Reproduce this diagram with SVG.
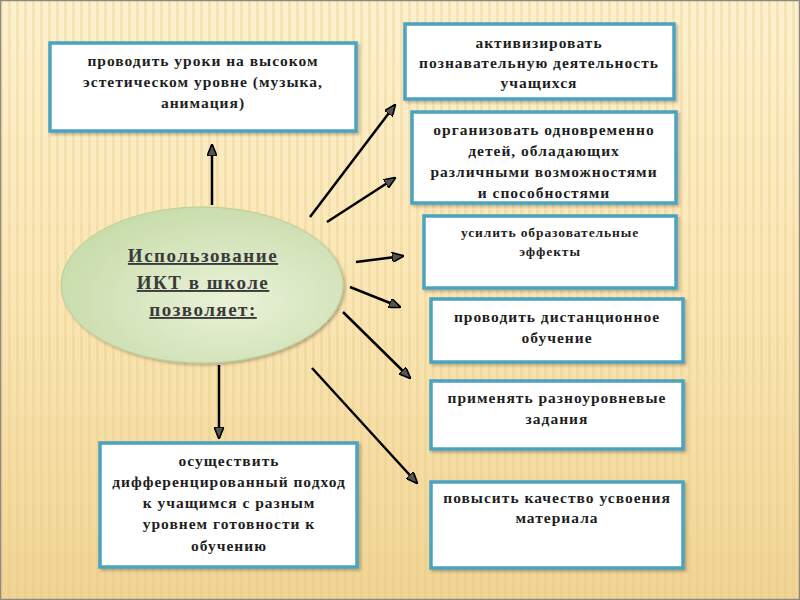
<svg xmlns="http://www.w3.org/2000/svg" width="800" height="600" viewBox="0 0 800 600">
<defs>
<linearGradient id="bg" x1="0" y1="0" x2="0" y2="1">
<stop offset="0" stop-color="#FDF1CE"/>
<stop offset="0.5" stop-color="#FAE6B4"/>
<stop offset="1" stop-color="#F0D494"/>
</linearGradient>
<pattern id="stripes" width="8" height="600" patternUnits="userSpaceOnUse">
<rect x="0" y="0" width="3" height="600" fill="#E8C982" opacity="0.3"/>
</pattern>
<radialGradient id="ell" cx="0.6" cy="0.6" r="0.7">
<stop offset="0" stop-color="#E9F2D8"/>
<stop offset="1" stop-color="#C5DAA6"/>
</radialGradient>
<marker id="ah" viewBox="0 0 12 10" refX="11" refY="5" markerWidth="12" markerHeight="10" markerUnits="userSpaceOnUse" orient="auto">
<path d="M0,0 L12,5 L0,10 Z" fill="#555" stroke="#000" stroke-width="1.6"/>
</marker>
<filter id="sh" x="-5%" y="-5%" width="115%" height="120%">
<feDropShadow dx="2" dy="2" stdDeviation="1.5" flood-color="#000" flood-opacity="0.25"/>
</filter>
</defs>
<style>
.box{fill:#FFFFFF;stroke:#4BA3BF;stroke-width:3.5;filter:url(#sh)}
.t{font-family:"Liberation Serif","Times New Roman",serif;font-weight:bold;font-size:15.5px;fill:#1E1E1E;text-anchor:middle;letter-spacing:1px}
.ts{font-size:13.5px;letter-spacing:0.9px}
.c{font-family:"Liberation Serif","Times New Roman",serif;font-weight:bold;font-size:19px;fill:#3A3A3A;text-anchor:middle;text-decoration:underline;letter-spacing:1.5px}
.ar{stroke:#000;stroke-width:2.5;fill:none;marker-end:url(#ah)}
</style>
<rect width="800" height="600" fill="url(#bg)"/>
<rect width="800" height="600" fill="url(#stripes)"/>
<rect x="0.5" y="0.5" width="799" height="599" fill="none" stroke="#8A8A80" stroke-width="1.5"/>

<g id="connectors">
<line class="ar" x1="212" y1="205" x2="212" y2="145"/>
<line class="ar" x1="219" y1="365" x2="219" y2="438"/>
<line class="ar" x1="310" y1="217" x2="395" y2="105"/>
<line class="ar" x1="327" y1="222" x2="395" y2="178"/>
<line class="ar" x1="356" y1="262" x2="403" y2="256"/>
<line class="ar" x1="350" y1="287" x2="400" y2="307"/>
<line class="ar" x1="343" y1="312" x2="410" y2="378"/>
<line class="ar" x1="312" y1="368" x2="417" y2="483"/>
</g>

<g id="center">
<ellipse cx="202" cy="285" rx="141" ry="78" fill="url(#ell)" stroke="#B8CF98" stroke-width="1" filter="url(#sh)"/>
<text class="c" x="203" y="262">Использование</text>
<text class="c" x="203" y="289">ИКТ в  школе</text>
<text class="c" x="203" y="316">позволяет:</text>
</g>

<g id="n_top">
<rect class="box" x="50" y="43" width="306" height="88"/>
<text class="t" x="203" y="66">проводить уроки на высоком</text>
<text class="t" x="203" y="87">эстетическом уровне (музыка,</text>
<text class="t" x="203" y="108">анимация)</text>
</g>

<g id="n1">
<rect class="box" x="405" y="24" width="269" height="75"/>
<text class="t" x="539" y="48">активизировать</text>
<text class="t" x="539" y="68">познавательную деятельность</text>
<text class="t" x="539" y="88">учащихся</text>
</g>

<g id="n2">
<rect class="box" x="412" y="112" width="264" height="91"/>
<text class="t" x="544" y="135">организовать одновременно</text>
<text class="t" x="544" y="156">детей, обладающих</text>
<text class="t" x="544" y="177">различными возможностями</text>
<text class="t" x="544" y="198">и способностями</text>
</g>

<g id="n3">
<rect class="box" x="424" y="216" width="252" height="72"/>
<text class="t ts" x="550" y="237">усилить образовательные</text>
<text class="t ts" x="550" y="256">эффекты</text>
</g>

<g id="n4">
<rect class="box" x="431" y="299" width="252" height="63"/>
<text class="t" x="557" y="322">проводить дистанционное</text>
<text class="t" x="557" y="343">обучение</text>
</g>

<g id="n5">
<rect class="box" x="431" y="381" width="252" height="68"/>
<text class="t" x="557" y="403">применять разноуровневые</text>
<text class="t" x="557" y="424">задания</text>
</g>

<g id="n6">
<rect class="box" x="431" y="482" width="252" height="86"/>
<text class="t" x="557" y="503">повысить качество усвоения</text>
<text class="t" x="557" y="523">материала</text>
</g>

<g id="n_bottom">
<rect class="box" x="100" y="443" width="257" height="124"/>
<text class="t" x="229" y="466">осуществить</text>
<text class="t" x="229" y="487">дифференцированный подход</text>
<text class="t" x="229" y="508">к учащимся с разным</text>
<text class="t" x="229" y="529">уровнем готовности к</text>
<text class="t" x="229" y="551">обучению</text>
</g>
</svg>
